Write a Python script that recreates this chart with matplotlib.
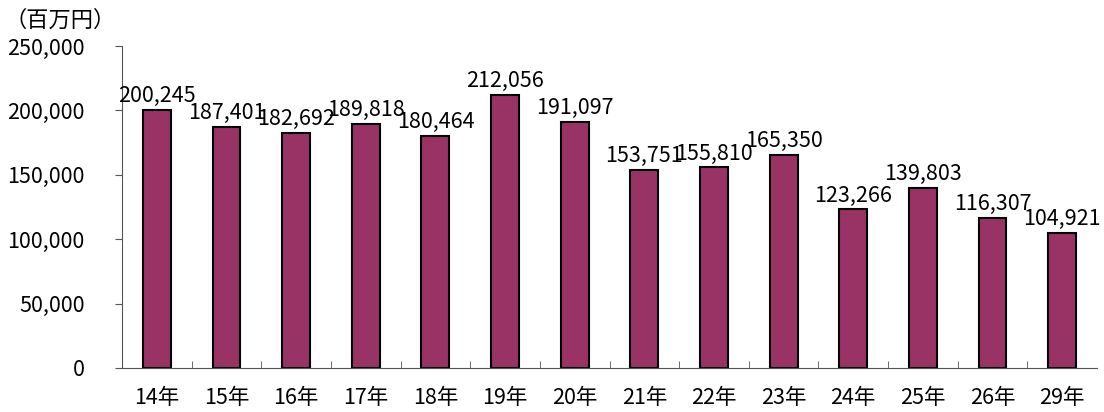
import numpy as np
import matplotlib
matplotlib.use("Agg")
import matplotlib.pyplot as plt

plt.rcParams['font.family'] = ['Noto Sans CJK JP', 'DejaVu Sans']

# data
years = ["14年", "15年", "16年", "17年", "18年", "19年", "20年",
         "21年", "22年", "23年", "24年", "25年", "26年", "29年"]
amounts = [200245, 187401, 182692, 189818, 180464, 212056, 191097,
           153751, 155810, 165350, 123266, 139803, 116307, 104921]
y_ticks = [0, 50000, 100000, 150000, 200000, 250000]

fig = plt.figure(figsize=(11.04, 4.12), dpi=100)
ax = fig.add_axes([122 / 1104, (412 - 368) / 412, 975 / 1104, 322 / 412])

x = np.arange(len(years))
ax.bar(x, amounts, width=0.4, color="#993366", edgecolor="black", linewidth=1.5)

for xi, v in zip(x, amounts):
    ax.annotate(f"{v:,}", (xi, v), xytext=(0, 2), textcoords="offset points",
                ha="center", va="bottom", fontsize=15.5)

ax.set_xlim(-0.5, len(years) - 0.5)
ax.set_ylim(0, 250000)
ax.set_yticks(y_ticks)
ax.set_yticklabels([f"{t:,}" for t in y_ticks], fontsize=15.5)

# category labels centred under bars, tick marks between categories
ax.set_xticks(x)
ax.set_xticklabels(years, fontsize=15.5)
ax.tick_params(axis="x", length=0, pad=14)
ax.set_xticks(np.arange(0.5, len(years) - 0.5, 1), minor=True)
ax.tick_params(axis="x", which="minor", direction="in", length=5, color="#555555")
ax.tick_params(axis="y", direction="out", length=5, color="#555555", pad=22)

ax.spines["top"].set_visible(False)
ax.spines["right"].set_visible(False)
ax.spines["left"].set_color("#555555")
ax.spines["bottom"].set_color("#555555")

fig.text(5 / 1104, 1 - 20 / 412, "（百万円）", fontsize=16, va="center", ha="left")

fig.savefig("out.png", dpi=100)
